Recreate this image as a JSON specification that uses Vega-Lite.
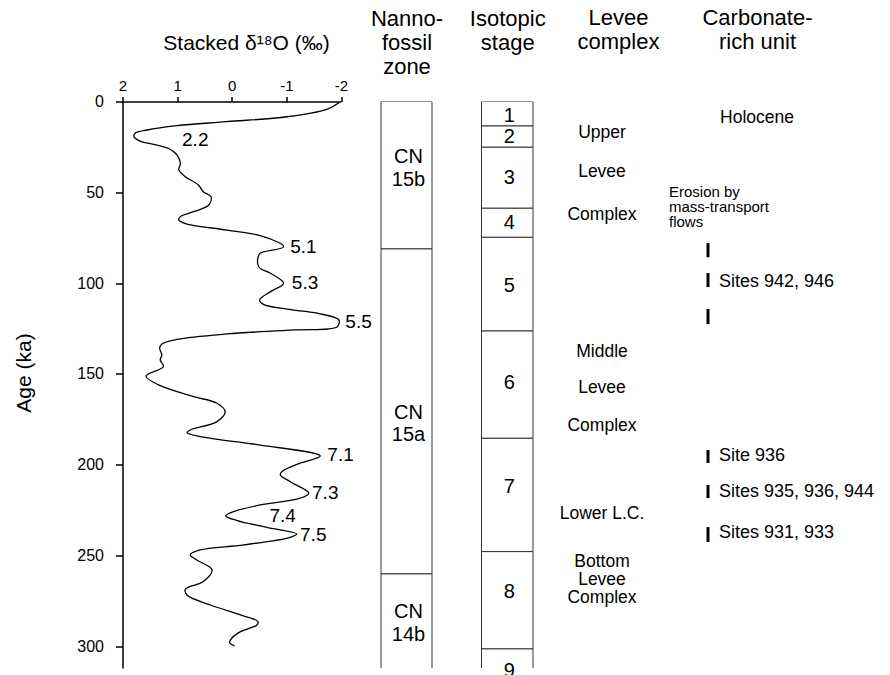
{
  "$schema": "https://vega.github.io/schema/vega-lite/v6.json",
  "width": 767.5,
  "height": 566.5,
  "autosize": {"type": "none"},
  "padding": {"left": 122.5, "top": 101.5, "right": 0, "bottom": 7},
  "background": "white",
  "config": {
    "font": "Liberation Sans",
    "view": {"stroke": null},
    "axis": {"domainColor": "black", "tickColor": "black", "labelColor": "black", "titleColor": "black", "titleFontWeight": "normal", "grid": false}
  },
  "datasets": {
    "d18o": [
      {"age": 0.5, "d18O": -1.97}, {"age": 4.3, "d18O": -1.74}, {"age": 8.4, "d18O": -1.01}, {"age": 11.1, "d18O": 0.09},
      {"age": 13.3, "d18O": 1.0}, {"age": 15.7, "d18O": 1.55}, {"age": 17.5, "d18O": 1.77}, {"age": 19.4, "d18O": 1.79},
      {"age": 21.8, "d18O": 1.68}, {"age": 24, "d18O": 1.37}, {"age": 26.3, "d18O": 1.13}, {"age": 29.5, "d18O": 1.0},
      {"age": 34, "d18O": 0.94}, {"age": 37.7, "d18O": 0.97}, {"age": 41.4, "d18O": 0.85}, {"age": 46, "d18O": 0.61},
      {"age": 49.7, "d18O": 0.52}, {"age": 52.4, "d18O": 0.38}, {"age": 57, "d18O": 0.42}, {"age": 60.7, "d18O": 0.7},
      {"age": 63.4, "d18O": 0.94}, {"age": 65.3, "d18O": 0.97}, {"age": 67.5, "d18O": 0.82}, {"age": 70.8, "d18O": 0.09},
      {"age": 73.9, "d18O": -0.52}, {"age": 80, "d18O": -0.95}, {"age": 83.6, "d18O": -0.52}, {"age": 86, "d18O": -0.48},
      {"age": 90, "d18O": -0.48}, {"age": 91.9, "d18O": -0.52}, {"age": 94.6, "d18O": -0.71}, {"age": 100.1, "d18O": -0.95},
      {"age": 104.7, "d18O": -0.71}, {"age": 109.3, "d18O": -0.51}, {"age": 111.7, "d18O": -0.58}, {"age": 114.4, "d18O": -1.01},
      {"age": 116.6, "d18O": -1.56}, {"age": 120.3, "d18O": -1.96}, {"age": 124, "d18O": -1.93}, {"age": 125.8, "d18O": -1.13},
      {"age": 128, "d18O": 0.09}, {"age": 131, "d18O": 1.0}, {"age": 133.5, "d18O": 1.28}, {"age": 135.9, "d18O": 1.32},
      {"age": 139.6, "d18O": 1.28}, {"age": 142.3, "d18O": 1.31}, {"age": 146, "d18O": 1.25}, {"age": 151.2, "d18O": 1.57},
      {"age": 156.1, "d18O": 1.34}, {"age": 162.5, "d18O": 0.7}, {"age": 166.2, "d18O": 0.27}, {"age": 170.8, "d18O": 0.12},
      {"age": 176.3, "d18O": 0.27}, {"age": 180.9, "d18O": 0.76}, {"age": 182.4, "d18O": 0.82}, {"age": 184.9, "d18O": 0.52},
      {"age": 189.2, "d18O": -0.52}, {"age": 195.2, "d18O": -1.62}, {"age": 199.2, "d18O": -1.25}, {"age": 203.8, "d18O": -0.92},
      {"age": 205.7, "d18O": -0.89}, {"age": 209.4, "d18O": -1.07}, {"age": 215.7, "d18O": -1.41}, {"age": 218.5, "d18O": -1.25},
      {"age": 222.2, "d18O": -0.52}, {"age": 225.9, "d18O": -0.03}, {"age": 228.2, "d18O": 0.11}, {"age": 230.8, "d18O": -0.1},
      {"age": 234.5, "d18O": -0.64}, {"age": 238.2, "d18O": -1.19}, {"age": 240, "d18O": -1.07}, {"age": 244.2, "d18O": -0.22},
      {"age": 247, "d18O": 0.58}, {"age": 249.7, "d18O": 0.76}, {"age": 252.5, "d18O": 0.64}, {"age": 258, "d18O": 0.36},
      {"age": 264.4, "d18O": 0.52}, {"age": 268.6, "d18O": 0.85}, {"age": 271.8, "d18O": 0.82}, {"age": 277.3, "d18O": 0.39},
      {"age": 282.8, "d18O": -0.16}, {"age": 286.4, "d18O": -0.48}, {"age": 288.3, "d18O": -0.46}, {"age": 292, "d18O": -0.16},
      {"age": 295.6, "d18O": 0.0}, {"age": 298, "d18O": 0.04}, {"age": 299.8, "d18O": -0.05}
    ],
    "curveLabels": [
      {"label": "2.2", "d18O": 0.91, "age": 21.2}, {"label": "5.1", "d18O": -1.07, "age": 80},
      {"label": "5.3", "d18O": -1.1, "age": 100}, {"label": "5.5", "d18O": -2.08, "age": 121.3},
      {"label": "7.1", "d18O": -1.75, "age": 194.7}, {"label": "7.3", "d18O": -1.47, "age": 215.8},
      {"label": "7.4", "d18O": -0.69, "age": 228.3}, {"label": "7.5", "d18O": -1.25, "age": 238.8}
    ],
    "nanno": [
      {"col": "Nannofossil zone", "zone": "CN\n15b", "start": 0, "end": 81.2, "labelAge": 30.6},
      {"col": "Nannofossil zone", "zone": "CN\n15a", "start": 81.2, "end": 260.2, "labelAge": 171.5},
      {"col": "Nannofossil zone", "zone": "CN\n14b", "start": 260.2, "end": 330, "labelAge": 281.2}
    ],
    "stages": [
      {"col": "Isotopic stage", "stage": "1", "start": 0, "end": 13.5, "labelAge": 8.0},
      {"col": "Isotopic stage", "stage": "2", "start": 13.5, "end": 25.2, "labelAge": 19.7},
      {"col": "Isotopic stage", "stage": "3", "start": 25.2, "end": 58.8, "labelAge": 42.3},
      {"col": "Isotopic stage", "stage": "4", "start": 58.8, "end": 74.8, "labelAge": 67.1},
      {"col": "Isotopic stage", "stage": "5", "start": 74.8, "end": 126.4, "labelAge": 101.5},
      {"col": "Isotopic stage", "stage": "6", "start": 126.4, "end": 185.5, "labelAge": 154.9},
      {"col": "Isotopic stage", "stage": "7", "start": 185.5, "end": 247.9, "labelAge": 212.3},
      {"col": "Isotopic stage", "stage": "8", "start": 247.9, "end": 301.5, "labelAge": 270.1},
      {"col": "Isotopic stage", "stage": "9", "start": 301.5, "end": 339, "labelAge": 313.7}
    ],
    "levee": [
      {"col": "Levee complex", "label": "Upper", "age": 17.3},
      {"col": "Levee complex", "label": "Levee", "age": 38.8},
      {"col": "Levee complex", "label": "Complex", "age": 62.5},
      {"col": "Levee complex", "label": "Middle", "age": 138},
      {"col": "Levee complex", "label": "Levee", "age": 157.8},
      {"col": "Levee complex", "label": "Complex", "age": 178.7},
      {"col": "Levee complex", "label": "Lower L.C.", "age": 227.2},
      {"col": "Levee complex", "label": "Bottom\nLevee\nComplex", "age": 253.6}
    ],
    "carbUnits": [
      {"col": "Carbonate-rich unit", "label": "Holocene", "age": 9.1}
    ],
    "carbNotes": [
      {"col": "Carbonate-rich unit", "label": "Erosion by\nmass-transport\nflows", "age": 49.8}
    ],
    "carbSites": [
      {"col": "Carbonate-rich unit", "label": "Sites 942, 946", "age": 99.4},
      {"col": "Carbonate-rich unit", "label": "Site 936", "age": 195.2},
      {"col": "Carbonate-rich unit", "label": "Sites 935, 936, 944", "age": 215.0},
      {"col": "Carbonate-rich unit", "label": "Sites 931, 933", "age": 237.6}
    ],
    "carbTicks": [
      {"col": "Carbonate-rich unit", "start": 78.0, "end": 85.8},
      {"col": "Carbonate-rich unit", "start": 94.5, "end": 102.2},
      {"col": "Carbonate-rich unit", "start": 114.3, "end": 122.6},
      {"col": "Carbonate-rich unit", "start": 191.9, "end": 199.1},
      {"col": "Carbonate-rich unit", "start": 211.2, "end": 218.4},
      {"col": "Carbonate-rich unit", "start": 234.4, "end": 242.6}
    ]
  },
  "resolve": {"scale": {"x": "independent"}, "axis": {"x": "independent"}},
  "layer": [
    {
      "data": {"name": "d18o"},
      "mark": {"type": "line", "color": "black", "strokeWidth": 1.3, "interpolate": "catmull-rom"},
      "encoding": {
        "x": {
          "field": "d18O", "type": "quantitative",
          "scale": {"domain": [2, -2], "range": [0, 218.5], "nice": false, "zero": false},
          "axis": {
            "orient": "top", "values": [2, 1, 0, -1, -2], "labelExpr": "'' + datum.value",
            "title": "Stacked δ¹⁸O (‰)", "titleFontSize": 21, "titleX": 123.5, "titleY": -52, "titleBaseline": "alphabetic",
            "labelFontSize": 15, "labelPadding": 3, "tickSize": 5, "domainWidth": 1.5, "tickWidth": 1.5, "labelFlush": false
          }
        },
        "y": {
          "field": "age", "type": "quantitative",
          "scale": {"domain": [0, 312], "reverse": true, "nice": false, "zero": false},
          "axis": {
            "orient": "left", "values": [0, 50, 100, 150, 200, 250, 300], "title": "Age (ka)", "titleFontSize": 21,
            "titleX": -92.5, "titleY": 271, "titleBaseline": "alphabetic", "titleAngle": -90,
            "labelFontSize": 16, "labelPadding": 12, "tickSize": 7, "domainWidth": 1.5, "tickWidth": 1.5, "labelFlush": false
          }
        },
        "order": {"field": "age", "type": "quantitative"}
      }
    },
    {
      "data": {"name": "curveLabels"},
      "mark": {"type": "text", "align": "left", "baseline": "middle", "fontSize": 19, "color": "black"},
      "encoding": {
        "x": {"field": "d18O", "type": "quantitative", "scale": {"domain": [2, -2], "range": [0, 218.5], "nice": false, "zero": false}, "axis": null},
        "y": {"field": "age", "type": "quantitative", "scale": {"domain": [0, 312], "reverse": true, "nice": false, "zero": false}},
        "text": {"field": "label"}
      }
    },
    {
      "data": {"name": "nanno"},
      "mark": {"type": "rect", "fill": "white", "stroke": "#333", "strokeWidth": 1, "clip": true},
      "encoding": {
        "x": {
          "field": "col", "type": "nominal",
          "scale": {"range": [258.5, 309.5], "paddingInner": 0, "paddingOuter": 0},
          "axis": {"orient": "top", "domain": false, "ticks": false, "labels": false, "title": ["Nanno-", "fossil", "zone"], "titleFontSize": 22, "titleLineHeight": 24, "titleBaseline": "alphabetic", "titleY": -76}
        },
        "y": {"field": "start", "type": "quantitative", "scale": {"domain": [0, 312], "reverse": true, "nice": false, "zero": false}},
        "y2": {"field": "end"}
      }
    },
    {
      "data": {"name": "nanno"},
      "mark": {"type": "text", "fontSize": 20, "lineBreak": "\n", "lineHeight": 22.5, "baseline": "middle", "align": "center", "dx": 2, "color": "black"},
      "encoding": {
        "x": {"field": "col", "type": "nominal", "scale": {"range": [258.5, 309.5], "paddingInner": 0, "paddingOuter": 0}, "axis": null},
        "y": {"field": "labelAge", "type": "quantitative", "scale": {"domain": [0, 312], "reverse": true, "nice": false, "zero": false}},
        "text": {"field": "zone"}
      }
    },
    {
      "data": {"name": "stages"},
      "mark": {"type": "rect", "fill": "white", "stroke": "#333", "strokeWidth": 1, "clip": true},
      "encoding": {
        "x": {
          "field": "col", "type": "nominal",
          "scale": {"range": [359, 410.5], "paddingInner": 0, "paddingOuter": 0},
          "axis": {"orient": "top", "domain": false, "ticks": false, "labels": false, "title": ["Isotopic", "stage"], "titleFontSize": 22, "titleLineHeight": 24, "titleBaseline": "alphabetic", "titleY": -76}
        },
        "y": {"field": "start", "type": "quantitative", "scale": {"domain": [0, 312], "reverse": true, "nice": false, "zero": false}},
        "y2": {"field": "end"}
      }
    },
    {
      "data": {"name": "stages"},
      "mark": {"type": "text", "fontSize": 20, "baseline": "middle", "align": "center", "dx": 2, "color": "black"},
      "encoding": {
        "x": {"field": "col", "type": "nominal", "scale": {"range": [359, 410.5], "paddingInner": 0, "paddingOuter": 0}, "axis": null},
        "y": {"field": "labelAge", "type": "quantitative", "scale": {"domain": [0, 312], "reverse": true, "nice": false, "zero": false}},
        "text": {"field": "stage"}
      }
    },
    {
      "data": {"name": "levee"},
      "mark": {"type": "text", "fontSize": 17.5, "lineBreak": "\n", "lineHeight": 18, "baseline": "middle", "align": "center", "dx": -16, "color": "black"},
      "encoding": {
        "x": {
          "field": "col", "type": "nominal",
          "scale": {"range": [450.5, 540.5], "paddingInner": 0, "paddingOuter": 0},
          "axis": {"orient": "top", "domain": false, "ticks": false, "labels": false, "title": ["Levee", "complex"], "titleFontSize": 22, "titleLineHeight": 24, "titleBaseline": "alphabetic", "titleY": -77}
        },
        "y": {"field": "age", "type": "quantitative", "scale": {"domain": [0, 312], "reverse": true, "nice": false, "zero": false}},
        "text": {"field": "label"}
      }
    },
    {
      "data": {"name": "carbUnits"},
      "mark": {"type": "text", "fontSize": 17.5, "baseline": "middle", "align": "center", "color": "black"},
      "encoding": {
        "x": {
          "field": "col", "type": "nominal",
          "scale": {"range": [589.5, 679.5], "paddingInner": 0, "paddingOuter": 0},
          "axis": {"orient": "top", "domain": false, "ticks": false, "labels": false, "title": ["Carbonate-", "rich unit"], "titleFontSize": 22, "titleLineHeight": 24, "titleBaseline": "alphabetic", "titleY": -77}
        },
        "y": {"field": "age", "type": "quantitative", "scale": {"domain": [0, 312], "reverse": true, "nice": false, "zero": false}},
        "text": {"field": "label"}
      }
    },
    {
      "data": {"name": "carbNotes"},
      "mark": {"type": "text", "fontSize": 15, "lineBreak": "\n", "lineHeight": 15, "baseline": "middle", "align": "left", "dx": -88, "color": "black"},
      "encoding": {
        "x": {"field": "col", "type": "nominal", "scale": {"range": [589.5, 679.5], "paddingInner": 0, "paddingOuter": 0}, "axis": null},
        "y": {"field": "age", "type": "quantitative", "scale": {"domain": [0, 312], "reverse": true, "nice": false, "zero": false}},
        "text": {"field": "label"}
      }
    },
    {
      "data": {"name": "carbSites"},
      "mark": {"type": "text", "fontSize": 18, "baseline": "middle", "align": "left", "dx": -38, "color": "black"},
      "encoding": {
        "x": {"field": "col", "type": "nominal", "scale": {"range": [589.5, 679.5], "paddingInner": 0, "paddingOuter": 0}, "axis": null},
        "y": {"field": "age", "type": "quantitative", "scale": {"domain": [0, 312], "reverse": true, "nice": false, "zero": false}},
        "text": {"field": "label"}
      }
    },
    {
      "data": {"name": "carbTicks"},
      "mark": {"type": "rule", "strokeWidth": 3, "color": "black", "xOffset": -49},
      "encoding": {
        "x": {"field": "col", "type": "nominal", "scale": {"range": [589.5, 679.5], "paddingInner": 0, "paddingOuter": 0}, "axis": null},
        "y": {"field": "start", "type": "quantitative", "scale": {"domain": [0, 312], "reverse": true, "nice": false, "zero": false}},
        "y2": {"field": "end"}
      }
    }
  ]
}
